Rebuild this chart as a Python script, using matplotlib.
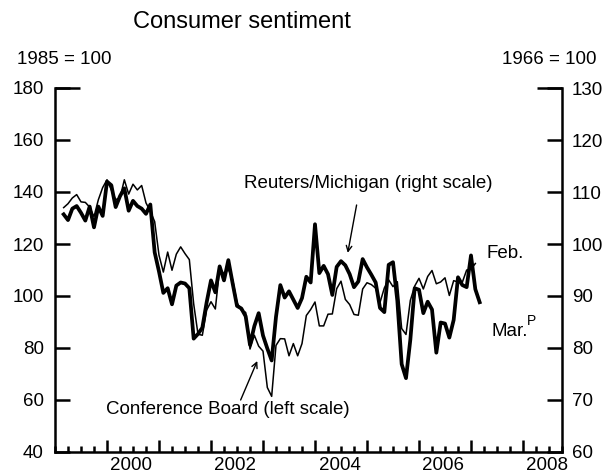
import numpy as np
import matplotlib
matplotlib.use("Agg")
import matplotlib.pyplot as plt
import matplotlib.transforms as mtransforms

plt.rcParams['font.family'] = ['Liberation Sans', 'DejaVu Sans']

# monthly readings, March 1999 onward
mich = [105.7, 104.6, 106.8, 107.3, 106.0, 104.5, 107.2, 103.2, 107.2, 105.4,
        112.0, 111.3, 107.1, 109.2, 110.7, 106.4, 108.3, 107.3, 106.8, 105.8, 107.6, 98.4,
        94.7, 90.6, 91.5, 88.4, 92.0, 92.6, 92.4, 91.5, 81.8, 82.7, 83.9, 88.8,
        93.0, 90.7, 95.7, 93.0, 96.9, 92.4, 88.1, 87.6, 86.1, 80.6, 84.2, 86.7,
        82.4, 79.9, 77.6, 86.0, 92.1, 89.7, 90.9, 89.3, 87.7, 89.6, 93.7, 92.6,
        103.8, 94.4, 95.8, 94.2, 90.2, 95.6, 96.7, 95.9, 94.2, 91.7, 92.8, 97.1,
        95.5, 94.1, 92.6, 87.7, 86.9, 96.0, 96.5, 89.1, 76.9, 74.2, 81.6, 91.5,
        91.2, 86.7, 88.9, 87.4, 79.1, 84.9, 84.7, 82.0, 85.4, 93.6, 92.1, 91.7,
        97.8, 91.3, 88.8]

conf_board = [134.0, 135.5, 137.7, 139.0, 136.2, 136.0, 134.2, 130.5, 137.0, 141.7,
              144.7, 140.8, 137.1, 137.7, 144.7, 139.2, 143.0, 140.8, 142.5, 135.8, 132.6, 128.6,
              115.7, 109.2, 116.9, 109.9, 116.1, 118.9, 116.3, 114.0, 97.0, 85.3, 84.9, 94.6,
              97.8, 95.0, 110.7, 108.5, 110.3, 106.3, 97.4, 94.5, 93.7, 79.6, 84.9, 80.7,
              78.8, 64.8, 61.4, 81.0, 83.6, 83.5, 77.0, 81.7, 77.0, 81.7, 92.5, 94.8,
              97.7, 88.5, 88.5, 93.0, 93.1, 102.8, 105.7, 98.7, 96.7, 92.9, 92.6, 102.7,
              105.1, 104.4, 103.0, 97.5, 103.1, 106.2, 103.6, 105.5, 87.5, 85.2, 98.3, 103.8,
              106.8, 102.7, 107.5, 109.8, 104.7, 105.4, 107.0, 100.2, 105.9, 105.4, 105.3, 110.0,
              110.3, 112.5]

year_labels = ['2000', '2002', '2004', '2006', '2008']
left_ticks = [40, 60, 80, 100, 120, 140, 160, 180]
right_ticks = [60, 70, 80, 90, 100, 110, 120, 130]

t_mich = 1999 + (np.arange(len(mich)) + 2) / 12
t_cb = 1999 + (np.arange(len(conf_board)) + 2) / 12

fig = plt.figure(figsize=(6.05, 4.74), dpi=100)
ax = fig.add_axes([55 / 605, 1 - 452 / 474, (562 - 55) / 605, (452 - 88) / 474])
ax2 = ax.twinx()

ax.plot(t_cb, conf_board, color='black', lw=1.1)
ax2.plot(t_mich, mich, color='black', lw=2.7)

ax.set_xlim(1999.14, 2008.56)
ax.set_ylim(40, 180)
ax2.set_ylim(60, 130)

for s in ['top', 'right']:
    ax.spines[s].set_visible(False)
for s in ['top', 'left', 'bottom']:
    ax2.spines[s].set_visible(False)
for s in ['left', 'bottom']:
    ax.spines[s].set_linewidth(1.8)
ax2.spines['right'].set_linewidth(1.8)

# x ticks: tall at years, short at quarters, labels mid-year
ax.set_xticks(np.arange(2000, 2009))
ax.set_xticks(np.arange(1999, 2009, 0.25), minor=True)
ax.tick_params(axis='x', which='major', direction='in', length=8.6, width=1.8, labelbottom=False)
ax.tick_params(axis='x', which='minor', direction='in', length=4.3, width=1.8)
trans = mtransforms.blended_transform_factory(ax.transData, ax.transAxes)
for lab in year_labels:
    ax.text(int(lab) + 0.47, -0.015, lab, transform=trans, ha='center', va='top', fontsize=13.5)

ax.set_yticks(left_ticks)
ax.tick_params(axis='y', which='major', direction='in', length=11, width=1.8, pad=8, labelsize=13.5)
ax2.set_yticks(right_ticks)
ax2.tick_params(axis='y', which='major', direction='in', length=11, width=1.8, pad=7, labelsize=13.5)

# longer cap ticks at the top of both scales
cap = 25 / 507
ax.plot([0, cap], [1, 1], transform=ax.transAxes, color='black', lw=1.8,
        clip_on=False, solid_capstyle='butt')
ax.plot([1 - cap, 1], [1, 1], transform=ax.transAxes, color='black', lw=1.8,
        clip_on=False, solid_capstyle='butt')

fig.text(133 / 605, 1 - 22 / 474, 'Consumer sentiment', fontsize=17, va='center', ha='left')
fig.text(17 / 605, 1 - 60 / 474, '1985 = 100', fontsize=13.5, va='center', ha='left')
fig.text(597 / 605, 1 - 60 / 474, '1966 = 100', fontsize=13.5, va='center', ha='right')

ax2.text(2002.63, 111.7, 'Reuters/Michigan (right scale)', fontsize=13.5, va='center', ha='left')
ax2.annotate('', xy=(2004.63, 98.3), xytext=(2004.80, 107.5),
             arrowprops=dict(arrowstyle='->', lw=1, color='black', shrinkA=0, shrinkB=0))
ax.text(1999.99, 56.2, 'Conference Board (left scale)', fontsize=13.5, va='center', ha='left')
ax.annotate('', xy=(2002.89, 75.0), xytext=(2002.57, 60.0),
            arrowprops=dict(arrowstyle='->', lw=1, color='black', shrinkA=0, shrinkB=0))

ax.text(2007.30, 116.5, 'Feb.', fontsize=13.5, va='center', ha='left')
ax.text(2007.40, 86.2, 'Mar.', fontsize=13.5, va='center', ha='left')
ax.text(2008.08, 90.5, 'P', fontsize=10, va='center', ha='left')

fig.savefig('out.png', dpi=100)
